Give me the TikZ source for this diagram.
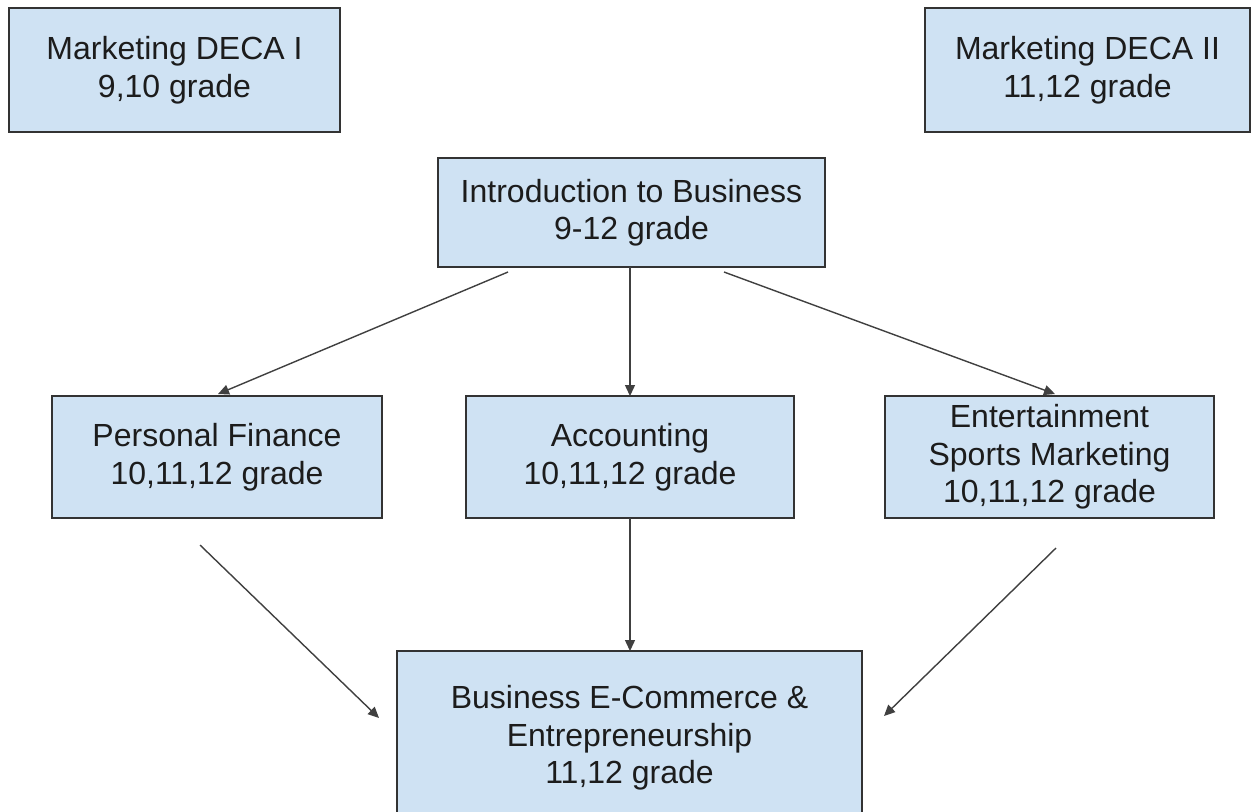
\documentclass[tikz,border=0pt]{standalone}
\usepackage{fontspec}
\setmainfont{Liberation Sans}
\usetikzlibrary{arrows.meta}
\definecolor{boxfill}{HTML}{CFE2F3}
\definecolor{boxline}{HTML}{333333}
\definecolor{arrowline}{HTML}{404040}
\definecolor{txt}{HTML}{1C1C1C}
\tikzset{
  course/.style={draw=boxline, line width=1pt, fill=boxfill, align=center,
    text=txt, inner sep=0pt, outer sep=0pt,
    font=\fontsize{16}{18.75}\selectfont},
  link/.style={draw=arrowline, line width=0.7pt,
    -{Triangle[length=5.5pt,width=5pt]}}
}
\begin{document}
\begin{tikzpicture}[x=0.5pt,y=-0.5pt]
\useasboundingbox (0,0) rectangle (1252,811);
\clip (0,0) rectangle (1252,811);
\fill[white] (0,0) rectangle (1252,811);
\node[course, minimum width=165.5pt, minimum height=62pt] (deca1) at (174.5,70) {Marketing DECA I\\9,10 grade};
\node[course, minimum width=162.5pt, minimum height=62pt] (deca2) at (1087.5,70) {Marketing DECA II\\11,12 grade};
\node[course, minimum width=193.5pt, minimum height=54.5pt] (intro) at (631.5,212.5) {Introduction to Business\\9-12 grade};
\node[course, minimum width=165pt, minimum height=61pt] (pf) at (217,457) {Personal Finance\\10,11,12 grade};
\node[course, minimum width=164pt, minimum height=61pt] (acc) at (630,457) {Accounting\\10,11,12 grade};
\node[course, minimum width=164.5pt, minimum height=61pt] (esm) at (1049.5,457) {Entertainment\\Sports Marketing\\10,11,12 grade};
\node[course, minimum width=232.5pt, minimum height=87pt] (bec) at (629.5,738) {Business E-Commerce \&\\Entrepreneurship\\11,12 grade};
\coordinate (a1s) at (508,272);
\coordinate (a1e) at (218,394);
\coordinate (a3s) at (724,272);
\coordinate (a3e) at (1055,394);
\coordinate (a4s) at (200,545);
\coordinate (a4e) at (379,718);
\coordinate (a6s) at (1056,548);
\coordinate (a6e) at (884,716);
\draw[link] (a1s) -- (a1e);
\draw[link] (intro.south -| acc.north) -- (acc.north);
\draw[link] (a3s) -- (a3e);
\draw[link] (a4s) -- (a4e);
\draw[link] (acc.south) -- (acc.south |- bec.north);
\draw[link] (a6s) -- (a6e);
\end{tikzpicture}
\end{document}
